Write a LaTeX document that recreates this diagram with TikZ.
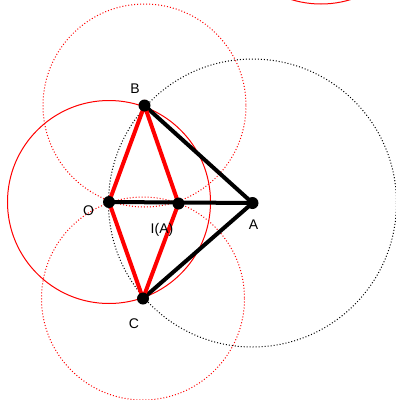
\documentclass[tikz,border=0pt]{standalone}
\usepackage{fontspec}
\setmainfont{Liberation Sans}
\begin{document}
\begin{tikzpicture}[x=1pt,y=-1pt,
  thinred/.style={red,line width=1pt},
  dotred/.style={red,line width=1pt,dash pattern=on 1pt off 2pt},
  dotblack/.style={black,line width=1pt,dash pattern=on 1pt off 2pt},
  thickblack/.style={black,line width=4pt},
  thickred/.style={red,line width=4pt},
  pt/.style={circle,fill=black,inner sep=0pt,minimum size=12pt},
  lbl/.style={font=\fontsize{14}{16}\selectfont,inner sep=0pt}]
\useasboundingbox (0,0) rectangle (396,400);
\begin{scope}
\clip (0,0) rectangle (396,400);
\coordinate (O) at (109,202);
\coordinate (A) at (252.5,203);
\coordinate (B) at (144.5,105.5);
\coordinate (C) at (143,298.5);
\coordinate (I) at (178.5,203.5);
\coordinate (T) at (321,-97);
\draw[thinred] (O) circle (101.5);
\draw[dotred] (B) circle (101.5);
\draw[dotred] (C) circle (101.5);
\draw[dotblack] (A) circle (144);
\draw[thinred] (T) circle (101);
\draw[thickblack] (B) -- (A) -- (C);
\draw[thickblack] (O) -- (A);
\draw[thickred] (O) -- (B) -- (I) -- (C) -- cycle;
\node[pt] (nO) at (O) {};
\node[pt] (nA) at (A) {};
\node[pt] (nB) at (B) {};
\node[pt] (nC) at (C) {};
\node[pt] (nI) at (I) {};
\end{scope}
\node[lbl] (lB) at (135,89) {B};
\node[lbl] (lO) at (88.5,211) {O};
\node[lbl] (lI) at (162,229.5) {I(A)};
\node[lbl] (lA) at (253.5,225) {A};
\node[lbl] (lC) at (134,323.5) {C};
\end{tikzpicture}
\end{document}
